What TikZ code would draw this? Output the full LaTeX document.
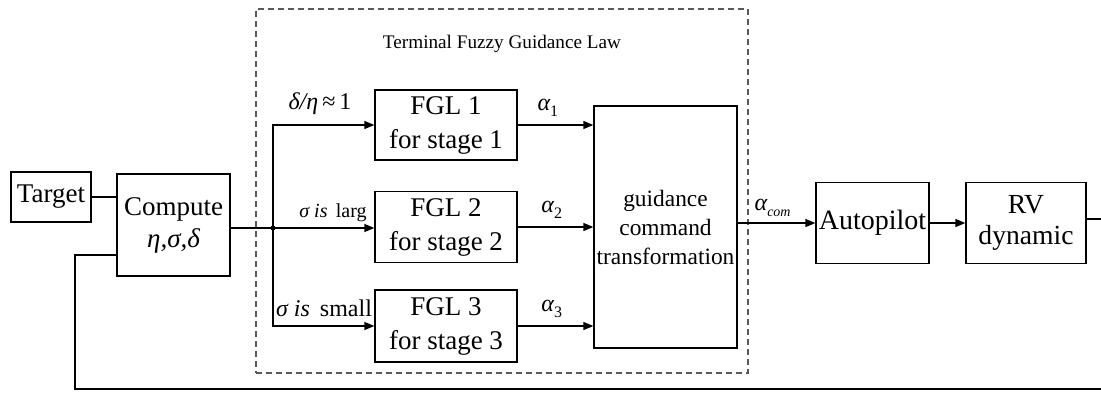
\documentclass[tikz,border=0pt]{standalone}
\usepackage{fontspec}
\setmainfont{Liberation Serif}
\usepackage{tikz}
\usetikzlibrary{arrows.meta}

\newcommand{\lowsub}[1]{\raisebox{-0.55ex}{\fontsize{8}{8}\selectfont\upshape #1}}

\begin{document}
\begin{tikzpicture}[x=0.5pt,y=-0.5pt,
        block/.style={draw, line width=0.65pt, inner sep=0pt, align=center,
                      font=\rmfamily\fontsize{13.5}{16}\selectfont},
        wire/.style={line width=0.65pt},
        bus/.style={line width=1.3pt},
        arr/.style={wire, -{Triangle[length=5pt, width=4pt]}},
        lbl/.style={inner sep=0pt, font=\rmfamily\fontsize{12}{12}\selectfont\itshape}]
        \useasboundingbox (0,0) rectangle (1101,392);

        % frame of the fuzzy law
        \node [draw, dashed, gray!70!black, line width=0.6pt, dash pattern=on 3pt off 2pt,
               minimum width=246pt, minimum height=182pt] (law) at (502,191) {};
        \node [inner sep=0pt, font=\rmfamily\fontsize{9.6}{10}\selectfont] (title) at (502,44) {Terminal Fuzzy Guidance Law};

        \node [block, minimum width=40pt, minimum height=25pt] (target) at (51,197) {Target};
        \node [block, minimum width=56.5pt, minimum height=51pt] (compute) at (173.5,225) {Compute\\ \itshape η,σ,δ};

        \node [block, minimum width=71pt, minimum height=35pt, font=\rmfamily\fontsize{13.5}{17}\selectfont] (fgl1) at (446,125) {FGL 1\\for stage 1};
        \node [block, minimum width=71pt, minimum height=35.5pt, font=\rmfamily\fontsize{13.5}{17}\selectfont] (fgl2) at (446,227) {FGL 2\\for stage 2};
        \node [block, minimum width=71pt, minimum height=36pt, font=\rmfamily\fontsize{13.5}{17}\selectfont] (fgl3) at (446,326) {FGL 3\\for stage 3};

        \node [block, minimum width=71.5pt, minimum height=121pt, font=\rmfamily\fontsize{11.7}{14.5}\selectfont] (guide) at (665.5,227) {guidance\\command\\transformation};

        \node [block, minimum width=56.5pt, minimum height=40.5pt, font=\rmfamily\fontsize{14}{16}\selectfont] (auto) at (872.5,223) {Autopilot};
        \node [block, minimum width=60pt, minimum height=40.5pt, font=\rmfamily\fontsize{13.8}{15.5}\selectfont] (rv) at (1026,223) {RV\\dynamic};

        \coordinate (split) at (273,228);
        \coordinate (fbin) at (117,255);
        \coordinate (fbout) at (1101,389);
        \coordinate (rvout) at (1101,219);

        \draw [bus] (target.east) -- (target.east -| compute.west);
        \draw [bus] (compute.east |- split) -- (split);
        \fill (split) circle (2.5);

        \draw [arr] (split) |- (fgl1.west);
        \draw [arr] (split) -- (split -| fgl2.west);
        \draw [arr] (split) |- (fgl3.west);

        \node [lbl] (cond1) at (320,104) {δ/η\,{\upshape≈\,1}};
        \node [lbl, font=\rmfamily\fontsize{10}{10}\selectfont] (cond2) at (333,213) {\itshape σ is\, \upshape larg};
        \node [lbl] (cond3) at (324,308) {σ is\, \upshape small};

        \draw [arr] (fgl1.east) -- (fgl1.east -| guide.west) node [lbl, above, pos=0.4, yshift=4pt] {α\lowsub{1}};
        \draw [arr] (fgl2.east) -- (fgl2.east -| guide.west) node [lbl, above, pos=0.45, yshift=4pt] {α\lowsub{2}};
        \draw [arr] (fgl3.east) -- (fgl3.east -| guide.west) node [lbl, above, pos=0.45, yshift=4pt] {α\lowsub{3}};

        \draw [arr] (guide.east |- auto.west) -- (auto.west) node [lbl, above, pos=0.45, yshift=3pt] {α\lowsub{\fontsize{7}{7}\selectfont\itshape com}};
        \draw [arr] (auto.east) -- (rv.west);

        \draw [bus] (rv.east |- rvout) -- (rvout);
        \draw [bus] (fbin) -- ++(-42,0) |- (fbout);
\end{tikzpicture}
\end{document}
